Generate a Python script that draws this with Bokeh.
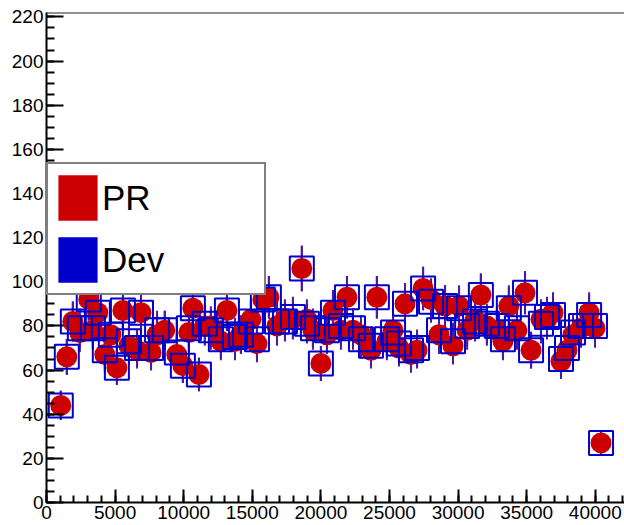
import numpy as np
from bokeh.plotting import figure
from bokeh.models import FixedTicker, Span, Legend, LegendItem, ColumnDataSource, Range1d
from bokeh.embed import file_html
from bokeh.resources import INLINE

x_vals = [1040, 1480, 1920, 2430, 3080, 3380, 3740, 4250, 4690, 5130,
          5570, 6010, 6600, 6890, 7620, 8060, 8620, 9500, 9940, 10380,
          10670, 11110, 11540, 11980, 12710, 13150, 13740, 14170, 14900, 15340,
          15770, 16210, 16800, 17380, 17960, 18610, 18980, 19420, 20000, 20440,
          20880, 21460, 21900, 22340, 22920, 23650, 24080, 24810, 25260, 25690,
          26130, 26570, 27010, 27450, 28030, 28610, 29050, 29630, 30070, 30660,
          31240, 31660, 32100, 32830, 33270, 33700, 34290, 34880, 35320, 36040,
          36480, 36920, 37500, 37940, 38380, 38960, 39550, 39980, 40420]

pr_vals = [44, 66, 82, 77, 92, 78, 86, 67, 76, 61,
           87, 71, 69, 86, 68, 76, 78, 67, 62, 77,
           88, 58, 80, 80, 73, 87, 73, 76, 83, 72,
           92, 93, 80, 83, 83, 106, 83, 78, 63, 76,
           87, 78, 93, 78, 76, 69, 93, 73, 78, 70,
           90, 67, 69, 97, 92, 76, 89, 71, 89, 78,
           83, 94, 80, 78, 73, 89, 78, 95, 69, 83,
           83, 86, 64, 69, 76, 79, 86, 79, 27]

dev_vals = [44, 66, 82, 79, 92, 79, 86, 69, 76, 61,
            87, 73, 70, 86, 70, 78, 78, 68, 62, 79,
            88, 58, 81, 78, 74, 87, 75, 76, 82, 74,
            92, 93, 82, 82, 84, 106, 81, 79, 63, 78,
            86, 80, 93, 79, 74, 71, 93, 74, 77, 72,
            90, 69, 70, 97, 91, 78, 89, 73, 88, 80,
            82, 94, 81, 80, 74, 88, 79, 95, 69, 81,
            84, 85, 65, 70, 77, 80, 85, 80, 27]

x_ticks = [0, 5000, 10000, 15000, 20000, 25000, 30000, 35000, 40000]
x_minor = list(range(0, 43000, 1000))
y_ticks = [0, 20, 40, 60, 80, 100, 120, 140, 160, 180, 200, 220]
y_minor = list(range(0, 225, 5))

RED = "#cc0000"
BLUE = "#0000cc"
BAR = "#4a1aa0"
FONT = "Liberation Sans"

p = figure(width=624, height=525, output_backend="svg", toolbar_location=None,
           x_range=Range1d(0, 42130), y_range=Range1d(0, 222),
           min_border_left=46, min_border_right=0, min_border_top=12, min_border_bottom=23)
p.grid.visible = False
p.outline_line_color = None
p.background_fill_color = "white"
p.border_fill_color = "white"

for ax, ticks, minor, tin, mtin in ((p.xaxis[0], x_ticks, x_minor, 13, 7),
                                     (p.yaxis[0], y_ticks, y_minor, 17, 8)):
    ax.ticker = FixedTicker(ticks=ticks, minor_ticks=minor)
    ax.major_tick_in = tin
    ax.major_tick_out = 0
    ax.minor_tick_in = mtin
    ax.minor_tick_out = 0
    ax.axis_line_width = 2
    ax.major_tick_line_width = 2
    ax.minor_tick_line_width = 2
    ax.axis_line_color = "black"
    ax.major_tick_line_color = "black"
    ax.minor_tick_line_color = "black"
    ax.major_label_text_font = FONT
    ax.major_label_text_font_size = "19px"
    ax.major_label_text_color = "black"
    ax.major_label_standoff = 3

p.add_layout(Span(location=222, dimension="width", line_color="#222222", line_width=2))

pr_err = np.sqrt(np.array(pr_vals, dtype=float))
dev_err = np.sqrt(np.array(dev_vals, dtype=float))
pr_src = ColumnDataSource(dict(x=x_vals, y=pr_vals,
                               lo=np.array(pr_vals) - pr_err, hi=np.array(pr_vals) + pr_err))
dev_src = ColumnDataSource(dict(x=x_vals, y=dev_vals,
                                lo=np.array(dev_vals) - dev_err, hi=np.array(dev_vals) + dev_err))

p.segment(x0="x", y0="lo", x1="x", y1="hi", source=pr_src, line_color=BAR, line_width=2)
p.segment(x0="x", y0="lo", x1="x", y1="hi", source=dev_src, line_color=BAR, line_width=2)
p.scatter(x="x", y="y", source=pr_src, marker="circle", size=21,
          fill_color=RED, line_color=None)
p.scatter(x="x", y="y", source=dev_src, marker="square", size=24,
          fill_color=None, line_color=BLUE, line_width=2)

# legend proxies (not drawn: NaN coordinates)
nan = [float("nan")]
leg_pr = p.quad(left=nan, right=nan, top=nan, bottom=nan, fill_color=RED, line_color=None)
leg_dev = p.quad(left=nan, right=nan, top=nan, bottom=nan, fill_color=BLUE, line_color=None)

legend = Legend(items=[LegendItem(label="PR", renderers=[leg_pr]),
                       LegendItem(label="Dev", renderers=[leg_dev])],
                location=(0, 207), margin=0, padding=5, spacing=5,
                glyph_width=49, glyph_height=57, label_standoff=0,
                label_width=157, label_height=57,
                label_text_font=FONT, label_text_font_size="35px",
                label_text_color="black",
                border_line_color="black", border_line_width=2,
                background_fill_color="white", background_fill_alpha=1.0)
p.add_layout(legend)

open("out.html", "w").write(file_html(p, INLINE))
